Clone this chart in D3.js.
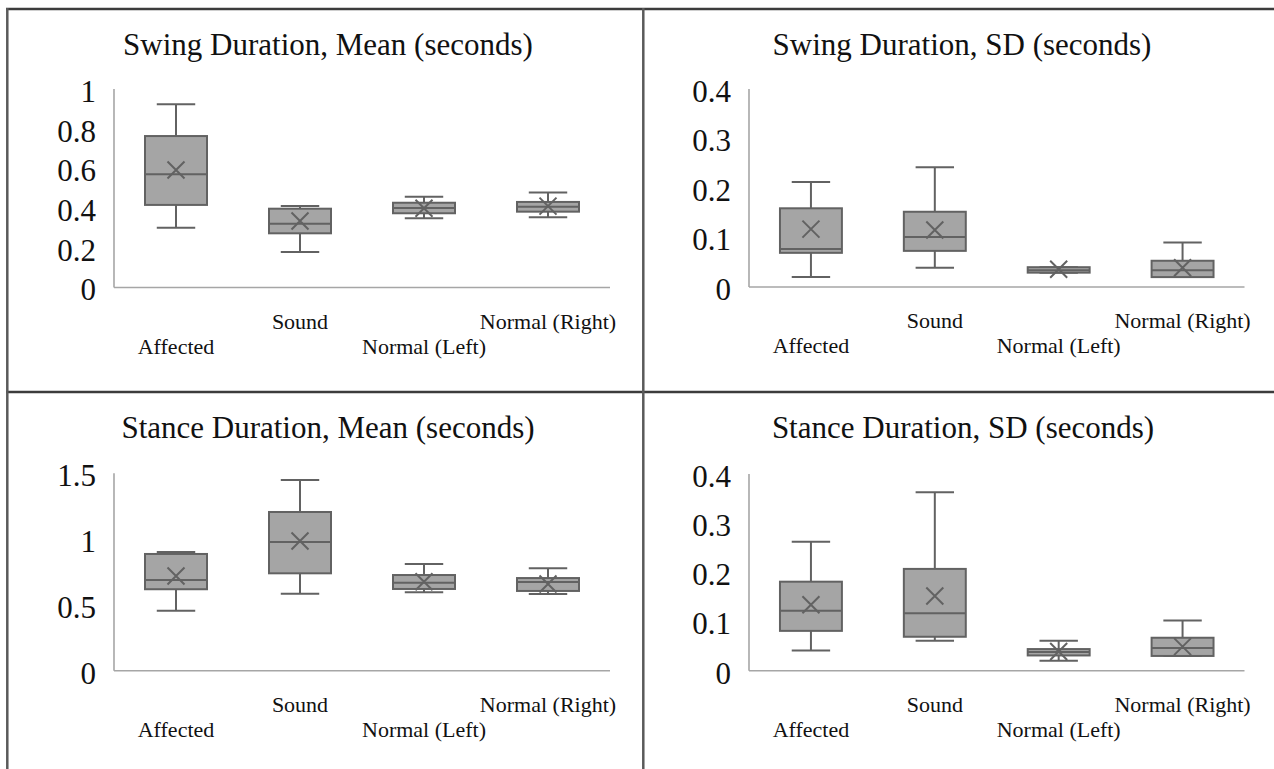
<!DOCTYPE html>
<html>
<head>
<meta charset="utf-8">
<script src="https://cdn.jsdelivr.net/npm/d3@7/dist/d3.min.js"></script>
<style>
  html, body { margin: 0; padding: 0; background: #fff; }
  svg { display: block; }
  text { font-family: "Liberation Serif", "Times New Roman", serif; fill: #111; }
</style>
</head>
<body>
<svg id="chart" width="1274" height="769"></svg>
<script>
// ---- Data ----
const categories = ["Affected", "Sound", "Normal (Left)", "Normal (Right)"];
const panelTitles = [
  "Swing Duration, Mean (seconds)",
  "Swing Duration, SD (seconds)",
  "Stance Duration, Mean (seconds)",
  "Stance Duration, SD (seconds)"
];

// Swing Duration, Mean
const swingMeanLow    = [0.301, 0.179, 0.349, 0.354];
const swingMeanQ1     = [0.416, 0.273, 0.374, 0.382];
const swingMeanMedian = [0.570, 0.321, 0.400, 0.407];
const swingMeanQ3     = [0.763, 0.397, 0.427, 0.431];
const swingMeanHigh   = [0.923, 0.411, 0.457, 0.478];
const swingMeanAvg    = [0.592, 0.335, 0.399, 0.410];
const swingMeanTicks  = [0, 0.2, 0.4, 0.6, 0.8, 1];

// Swing Duration, SD
const swingSdLow    = [0.020, 0.039, 0.029, 0.020];
const swingSdQ1     = [0.069, 0.073, 0.029, 0.020];
const swingSdMedian = [0.077, 0.101, 0.034, 0.034];
const swingSdQ3     = [0.159, 0.152, 0.040, 0.053];
const swingSdHigh   = [0.212, 0.242, 0.040, 0.090];
const swingSdAvg    = [0.117, 0.115, 0.036, 0.039];
const swingSdTicks  = [0, 0.1, 0.2, 0.3, 0.4];

// Stance Duration, Mean
const stanceMeanLow    = [0.456, 0.585, 0.596, 0.583];
const stanceMeanQ1     = [0.619, 0.740, 0.621, 0.606];
const stanceMeanMedian = [0.689, 0.978, 0.669, 0.674];
const stanceMeanQ3     = [0.887, 1.206, 0.727, 0.704];
const stanceMeanHigh   = [0.902, 1.449, 0.811, 0.778];
const stanceMeanAvg    = [0.720, 0.986, 0.676, 0.659];
const stanceMeanTicks  = [0, 0.5, 1, 1.5];

// Stance Duration, SD
const stanceSdLow    = [0.041, 0.061, 0.020, 0.030];
const stanceSdQ1     = [0.081, 0.069, 0.031, 0.030];
const stanceSdMedian = [0.122, 0.117, 0.038, 0.046];
const stanceSdQ3     = [0.181, 0.207, 0.044, 0.067];
const stanceSdHigh   = [0.262, 0.363, 0.061, 0.102];
const stanceSdAvg    = [0.134, 0.152, 0.039, 0.049];
const stanceSdTicks  = [0, 0.1, 0.2, 0.3, 0.4];

// ---- Layout ----
const panels = [
  { title: panelTitles[0], low: swingMeanLow, q1: swingMeanQ1, med: swingMeanMedian, q3: swingMeanQ3, high: swingMeanHigh, avg: swingMeanAvg, ticks: swingMeanTicks,
    x0: 114, x1: 610, yTop: 89, yBot: 287.5, titleX: 328, titleY: 55 },
  { title: panelTitles[1], low: swingSdLow, q1: swingSdQ1, med: swingSdMedian, q3: swingSdQ3, high: swingSdHigh, avg: swingSdAvg, ticks: swingSdTicks,
    x0: 749, x1: 1244.5, yTop: 89, yBot: 287, titleX: 962, titleY: 55 },
  { title: panelTitles[2], low: stanceMeanLow, q1: stanceMeanQ1, med: stanceMeanMedian, q3: stanceMeanQ3, high: stanceMeanHigh, avg: stanceMeanAvg, ticks: stanceMeanTicks,
    x0: 114, x1: 610, yTop: 473.3, yBot: 670.7, titleX: 328, titleY: 438 },
  { title: panelTitles[3], low: stanceSdLow, q1: stanceSdQ1, med: stanceSdMedian, q3: stanceSdQ3, high: stanceSdHigh, avg: stanceSdAvg, ticks: stanceSdTicks,
    x0: 749, x1: 1244.5, yTop: 474, yBot: 670.7, titleX: 963, titleY: 438 }
];

const svg = d3.select("#chart");

// Frame lines
const frame = svg.append("g");
frame.append("line").attr("x1", 6).attr("x2", 1274).attr("y1", 9).attr("y2", 9)
  .attr("stroke", "#3c3c3c").attr("stroke-width", 2.5);
frame.append("line").attr("x1", 6).attr("x2", 1274).attr("y1", 392).attr("y2", 392)
  .attr("stroke", "#3c3c3c").attr("stroke-width", 2.5);
frame.append("line").attr("x1", 7.3).attr("x2", 7.3).attr("y1", 8).attr("y2", 769)
  .attr("stroke", "#5a5a5a").attr("stroke-width", 2.5);
frame.append("line").attr("x1", 643.3).attr("x2", 643.3).attr("y1", 8).attr("y2", 769)
  .attr("stroke", "#5a5a5a").attr("stroke-width", 2.5);

const boxFill = "#a5a5a5";
const boxStroke = "#626262";

panels.forEach(p => {
  const g = svg.append("g");
  const x = d3.scaleBand().domain(categories).range([p.x0, p.x1]).padding(0);
  const y = d3.scaleLinear().domain([0, d3.max(p.ticks)]).range([p.yBot, p.yTop]);
  const bw = x.bandwidth() * 0.5;
  const capW = x.bandwidth() * 0.155;
  const mk = 8.5;

  // Title
  g.append("text").attr("x", p.titleX).attr("y", p.titleY)
    .attr("text-anchor", "middle").attr("font-size", 31).text(p.title);

  // Axes lines
  g.append("line").attr("x1", p.x0).attr("x2", p.x0).attr("y1", y(d3.max(p.ticks))).attr("y2", p.yBot)
    .attr("stroke", "#a6a6a6").attr("stroke-width", 1.6);
  g.append("line").attr("x1", p.x0).attr("x2", p.x1).attr("y1", p.yBot).attr("y2", p.yBot)
    .attr("stroke", "#a6a6a6").attr("stroke-width", 1.6);

  // Y tick labels via axis
  const ax = g.append("g").attr("transform", `translate(${p.x0},2.5)`)
    .call(d3.axisLeft(y).tickValues(p.ticks).tickSize(0).tickPadding(18).tickFormat(d3.format("~g")));
  ax.select(".domain").remove();
  ax.selectAll("text").attr("font-size", 31).attr("font-family", "Liberation Serif").attr("fill", "#111");

  // Category labels (staggered)
  categories.forEach((c, i) => {
    g.append("text")
      .attr("x", x(c) + x.bandwidth() / 2)
      .attr("y", p.yBot + (i % 2 === 0 ? 66 : 41))
      .attr("text-anchor", "middle").attr("font-size", 22).text(c);
  });

  // Boxes
  categories.forEach((c, i) => {
    const cx = x(c) + x.bandwidth() / 2;
    const bg = g.append("g");
    // whiskers
    bg.append("line").attr("x1", cx).attr("x2", cx).attr("y1", y(p.high[i])).attr("y2", y(p.q3[i]))
      .attr("stroke", boxStroke).attr("stroke-width", 2);
    bg.append("line").attr("x1", cx).attr("x2", cx).attr("y1", y(p.q1[i])).attr("y2", y(p.low[i]))
      .attr("stroke", boxStroke).attr("stroke-width", 2);
    bg.append("line").attr("x1", cx - capW).attr("x2", cx + capW).attr("y1", y(p.high[i])).attr("y2", y(p.high[i]))
      .attr("stroke", boxStroke).attr("stroke-width", 2);
    bg.append("line").attr("x1", cx - capW).attr("x2", cx + capW).attr("y1", y(p.low[i])).attr("y2", y(p.low[i]))
      .attr("stroke", boxStroke).attr("stroke-width", 2);
    // box
    bg.append("rect").attr("x", cx - bw / 2).attr("width", bw)
      .attr("y", y(p.q3[i])).attr("height", Math.max(0.5, y(p.q1[i]) - y(p.q3[i])))
      .attr("fill", boxFill).attr("stroke", boxStroke).attr("stroke-width", 2);
    // median
    bg.append("line").attr("x1", cx - bw / 2).attr("x2", cx + bw / 2).attr("y1", y(p.med[i])).attr("y2", y(p.med[i]))
      .attr("stroke", boxStroke).attr("stroke-width", 2);
    // mean marker X
    const my = y(p.avg[i]);
    bg.append("path")
      .attr("d", `M${cx - mk},${my - mk}L${cx + mk},${my + mk}M${cx - mk},${my + mk}L${cx + mk},${my - mk}`)
      .attr("stroke", boxStroke).attr("stroke-width", 2).attr("fill", "none");
  });
});
</script>
</body>
</html>
